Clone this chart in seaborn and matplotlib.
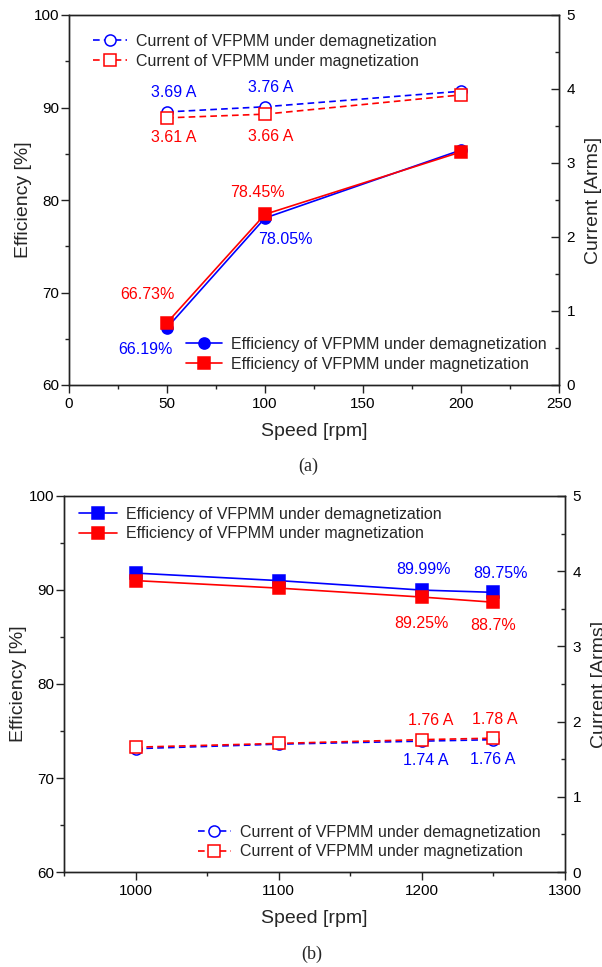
import matplotlib
matplotlib.use("Agg")
import matplotlib.pyplot as plt
from matplotlib.ticker import MultipleLocator
import pandas as pd
import seaborn as sns

# ---------------- data (panel a) ----------------
speed_a = [50, 100, 200]
eff_demag_a = [66.19, 78.05, 85.4]
eff_mag_a = [66.73, 78.45, 85.2]
cur_demag_a = [3.69, 3.76, 3.97]
cur_mag_a = [3.61, 3.66, 3.92]

# ---------------- data (panel b) ----------------
speed_b = [1000, 1100, 1200, 1250]
eff_demag_b = [91.8, 91.0, 89.99, 89.75]
eff_mag_b = [91.0, 90.2, 89.25, 88.7]
cur_demag_b = [1.64, 1.70, 1.74, 1.76]
cur_mag_b = [1.66, 1.71, 1.76, 1.78]

lab_eff_demag = "Efficiency of VFPMM under demagnetization"
lab_eff_mag = "Efficiency of VFPMM under magnetization"
lab_cur_demag = "Current of VFPMM under demagnetization"
lab_cur_mag = "Current of VFPMM under magnetization"

BLUE = "#0000FF"
RED = "#FF0000"

sns.set_style("ticks")
plt.rcParams["font.family"] = ["Liberation Sans", "DejaVu Sans"]
plt.rcParams["axes.linewidth"] = 1.0
plt.rcParams["axes.edgecolor"] = "#222222"

fig = plt.figure(figsize=(6.02, 9.67), dpi=100)
ax_a = fig.add_axes([69 / 602, 1 - 385 / 967, 490 / 602, 370 / 967])
ax_b = fig.add_axes([64 / 602, 1 - 872 / 967, 501 / 602, 376 / 967])
ax_a2 = ax_a.twinx()
ax_b2 = ax_b.twinx()


def series(ax, x, y, color, marker, label, dashed=False, hollow=False):
    df = pd.DataFrame({"x": x, "y": y})
    kw = dict(marker=marker, markersize=8, color=color, linewidth=1.2,
              markeredgecolor=color, markeredgewidth=1.1)
    if hollow:
        kw["markerfacecolor"] = "white"
    if dashed:
        kw["linestyle"] = (0, (4, 2.5))
    sns.lineplot(data=df, x="x", y="y", ax=ax, label=label, legend=False, **kw)


def annotate(ax, x, y, idx, offs, color, fmt):
    for i, (dx, dy) in zip(idx, offs):
        ax.annotate(fmt.format(y[i]), xy=(x[i], y[i]), xytext=(dx, dy),
                    textcoords="offset points", ha="center", va="center",
                    color=color, fontsize=11.5)


def style(ax, ax2, xlim, xmaj, xmin):
    ax.set_xlim(*xlim)
    ax.set_ylim(60, 100)
    ax2.set_ylim(0, 5)
    ax.xaxis.set_major_locator(MultipleLocator(xmaj))
    ax.xaxis.set_minor_locator(MultipleLocator(xmin))
    ax.yaxis.set_major_locator(MultipleLocator(10))
    ax.yaxis.set_minor_locator(MultipleLocator(5))
    ax2.yaxis.set_major_locator(MultipleLocator(1))
    ax2.yaxis.set_minor_locator(MultipleLocator(0.5))
    ax.tick_params(which="major", direction="out", length=5.5, width=1.0,
                   labelsize=11, pad=3, colors="#222222", labelcolor="black")
    ax.tick_params(which="minor", direction="out", length=3, width=1.0,
                   colors="#222222")
    ax.tick_params(axis="y", which="major", pad=1.5)
    ax.tick_params(axis="y", which="both", right=False)
    ax.tick_params(axis="x", which="both", top=False)
    ax2.tick_params(axis="y", which="major", direction="in", length=5.5,
                    width=1.0, labelsize=11, pad=5.5, colors="#222222",
                    labelcolor="black")
    ax2.tick_params(axis="y", which="minor", direction="in", length=3,
                    width=1.0, colors="#222222")
    for a in (ax, ax2):
        for s in a.spines.values():
            s.set_visible(True)
            s.set_linewidth(1.0)
    ax.set_xlabel("Speed [rpm]", fontsize=14, labelpad=9)
    ax.set_ylabel("Efficiency [%]", fontsize=14, labelpad=1.5)
    ax2.set_ylabel("Current [Arms]", fontsize=14, labelpad=7)


def legend(ax, loc_xy, hl):
    ax.legend(loc="upper left", bbox_to_anchor=loc_xy, frameon=False,
              fontsize=11.5, borderpad=0, borderaxespad=0, handlelength=hl,
              handletextpad=0.56, labelspacing=0.3)


# ---------------- panel (a) ----------------
series(ax_a, speed_a, eff_demag_a, BLUE, "o", lab_eff_demag)
series(ax_a, speed_a, eff_mag_a, RED, "s", lab_eff_mag)
series(ax_a2, speed_a, cur_demag_a, BLUE, "o", lab_cur_demag, dashed=True, hollow=True)
series(ax_a2, speed_a, cur_mag_a, RED, "s", lab_cur_mag, dashed=True, hollow=True)
style(ax_a, ax_a2, (0, 250), 50, 25)

annotate(ax_a2, speed_a, cur_demag_a, [0, 1], [(5, 13.7), (4.3, 14)], BLUE, "{:g} A")
annotate(ax_a2, speed_a, cur_mag_a, [0, 1], [(5, -14.4), (4.3, -15.8)], RED, "{:g} A")
annotate(ax_a, speed_a, eff_mag_a, [0, 1], [(-14.4, 20.2), (-5.8, 15.6)], RED, "{:g}%")
annotate(ax_a, speed_a, eff_demag_a, [0, 1], [(-15.8, -15.8), (14.4, -15.1)], BLUE, "{:g}%")

legend(ax_a2, (0.048, 0.949), 2.15)
legend(ax_a, (0.238, 0.130), 2.26)

# ---------------- panel (b) ----------------
series(ax_b, speed_b, eff_demag_b, BLUE, "s", lab_eff_demag)
series(ax_b, speed_b, eff_mag_b, RED, "s", lab_eff_mag)
series(ax_b2, speed_b, cur_demag_b, BLUE, "o", lab_cur_demag, dashed=True, hollow=True)
series(ax_b2, speed_b, cur_mag_b, RED, "s", lab_cur_mag, dashed=True, hollow=True)
style(ax_b, ax_b2, (950, 1300), 100, 50)

annotate(ax_b, speed_b, eff_demag_b, [2, 3], [(1.4, 15.1), (5, 13.7)], BLUE, "{:g}%")
annotate(ax_b, speed_b, eff_mag_b, [2, 3], [(0, -18.7), (0, -16.6)], RED, "{:g}%")
annotate(ax_b2, speed_b, cur_mag_b, [2, 3], [(6.5, 13.7), (1.1, 13.7)], RED, "{:g} A")
annotate(ax_b2, speed_b, cur_demag_b, [2, 3], [(2.9, -14), (-0.7, -14.2)], BLUE, "{:g} A")

legend(ax_b, (0.030, 0.972), 2.38)
legend(ax_b2, (0.267, 0.126), 2.08)

fig.text(308 / 602, 1 - 466 / 967, "(a)", ha="center", va="center",
         fontsize=13, family=["Liberation Serif", "DejaVu Serif"])
fig.text(312 / 602, 1 - 954 / 967, "(b)", ha="center", va="center",
         fontsize=13, family=["Liberation Serif", "DejaVu Serif"])

fig.savefig("out.png", dpi=100)
